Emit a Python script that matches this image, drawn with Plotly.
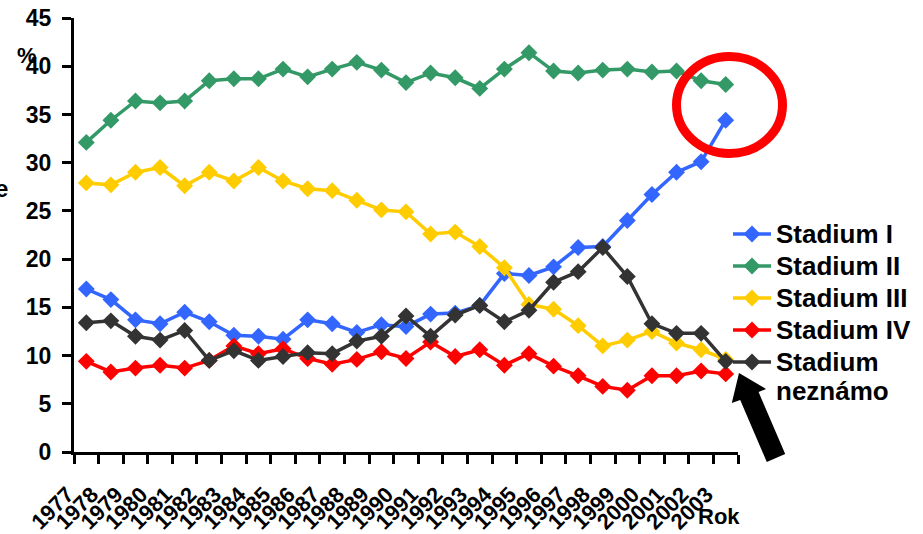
import plotly.graph_objects as go

# Survival-stage shares by year (percent)
years = ["1977", "1978", "1979", "1980", "1981", "1982", "1983", "1984", "1985",
         "1986", "1987", "1988", "1989", "1990", "1991", "1992", "1993", "1994",
         "1995", "1996", "1997", "1998", "1999", "2000", "2001", "2002", "2003"]

stadium_I = [16.9, 15.8, 13.7, 13.3, 14.5, 13.5, 12.1, 12.0, 11.7, 13.7, 13.3, 12.4, 13.2, 13.0,
             14.3, 14.4, 15.2, 18.5, 18.3, 19.2, 21.2, 21.3, 24.0, 26.7, 29.0, 30.1, 34.4]
stadium_II = [32.1, 34.4, 36.4, 36.2, 36.4, 38.5, 38.7, 38.7, 39.7, 38.9, 39.7, 40.4, 39.6, 38.3,
              39.3, 38.8, 37.7, 39.7, 41.4, 39.5, 39.3, 39.6, 39.7, 39.4, 39.5, 38.5, 38.1]
stadium_III = [27.9, 27.7, 29.0, 29.5, 27.6, 29.0, 28.1, 29.5, 28.1, 27.3, 27.1, 26.1, 25.1, 24.9,
               22.6, 22.8, 21.3, 19.1, 15.3, 14.8, 13.1, 11.0, 11.6, 12.5, 11.3, 10.6, 9.6]
stadium_IV = [9.4, 8.3, 8.7, 9.0, 8.7, 9.5, 11.0, 10.2, 10.7, 9.7, 9.1, 9.6, 10.4, 9.7,
              11.4, 9.9, 10.6, 9.0, 10.2, 8.9, 7.9, 6.8, 6.4, 7.9, 7.9, 8.4, 8.1]
stadium_unknown = [13.4, 13.6, 12.0, 11.6, 12.6, 9.5, 10.5, 9.5, 9.9, 10.3, 10.2, 11.5, 12.0, 14.1,
                   12.0, 14.2, 15.2, 13.5, 14.7, 17.6, 18.7, 21.2, 18.2, 13.3, 12.3, 12.3, 9.4]

series_names = ["Stadium I", "Stadium II", "Stadium III", "Stadium IV", "Stadium<br>neznámo"]
series_values = [stadium_I, stadium_II, stadium_III, stadium_IV, stadium_unknown]
series_colors = ["#3366FF", "#339966", "#FFCC00", "#FF0000", "#333333"]

y_ticks = [0, 5, 10, 15, 20, 25, 30, 35, 40, 45]

W, H = 923, 534
M_L, M_R, M_T, M_B = 74, 185, 18, 82
PW, PH = W - M_L - M_R, H - M_T - M_B


def px(x):
    return (x - M_L) / PW


def py(y):
    return (H - M_B - y) / PH


FONT = "Liberation Sans, Arial, sans-serif"
LEGEND_PX = 26


def legend_label(text):
    # larger glyphs inside a legend whose row pitch follows the base font size
    return "<br>".join(f"<span style='font-size:{LEGEND_PX}px'>{part}</span>"
                       for part in text.split("<br>"))


fig = go.Figure()
for name, vals, col in zip(series_names, series_values, series_colors):
    fig.add_trace(go.Scatter(
        x=years, y=vals, name=legend_label(name), mode="lines+markers",
        line=dict(color=col, width=3.5),
        marker=dict(symbol="diamond", size=13, color=col, line=dict(width=0)),
    ))

fig.update_layout(
    width=W, height=H,
    margin=dict(l=M_L, r=M_R, t=M_T, b=M_B, pad=0, autoexpand=False),
    paper_bgcolor="white", plot_bgcolor="white",
    font=dict(family=FONT, color="black"),
    showlegend=True,
    legend=dict(
        x=px(728), y=py(213), xanchor="left", yanchor="top",
        font=dict(size=22.3, family=FONT, weight="bold", color="black"),
        bgcolor="rgba(0,0,0,0)", borderwidth=0, tracegroupgap=0,
        itemwidth=38, valign="top",
    ),
)

fig.update_xaxes(
    type="category", range=[-0.5, len(years) - 0.5],
    tickmode="array", tickvals=years, ticktext=years,
    showline=True, linecolor="black", linewidth=3,
    ticks="outside", tickson="boundaries", ticklen=9, tickwidth=3, tickcolor="black",
    tickangle=-45, ticklabelstandoff=18, ticklabelshift=-19,
    tickfont=dict(size=22, family=FONT, weight="bold", color="black"),
    showgrid=False, zeroline=False, automargin=False,
)
fig.update_yaxes(
    range=[0, 45], tickvals=y_ticks,
    showline=True, linecolor="black", linewidth=3,
    ticks="outside", ticklen=9, tickwidth=3, tickcolor="black",
    ticklabelstandoff=6,
    tickfont=dict(size=23, family=FONT, weight="bold", color="black"),
    showgrid=False, zeroline=False, automargin=False,
)

# Axis captions
fig.add_annotation(text="%", x=px(27), y=py(55), xref="paper", yref="paper",
                   xanchor="center", yanchor="middle", showarrow=False,
                   font=dict(size=22, family=FONT, weight="bold"))
fig.add_annotation(text="e", x=px(10), y=py(188), xref="paper", yref="paper",
                   xanchor="right", yanchor="middle", showarrow=False,
                   font=dict(size=24, family=FONT, weight="bold"))
fig.add_annotation(text="Rok", x=px(719), y=py(516), xref="paper", yref="paper",
                   xanchor="center", yanchor="middle", showarrow=False,
                   font=dict(size=22, family=FONT, weight="bold"))

# Red ring around the 2003 values
fig.add_shape(type="circle", xref="paper", yref="paper",
              x0=px(676.5), x1=px(782.5), y0=py(153.5), y1=py(56.5),
              line=dict(color="#FF0000", width=9))

# Block arrow pointing at the legend entry for the unknown stage
arrow_pts = [(739, 373), (766, 388.9), (758.6, 392.1), (785.2, 454.1),
             (766.8, 461.9), (740.2, 399.9), (731.8, 403.1)]
path = "M " + " L ".join(f"{px(a):.5f},{py(b):.5f}" for a, b in arrow_pts) + " Z"
fig.add_shape(type="path", xref="paper", yref="paper", path=path,
              fillcolor="black", line=dict(color="black", width=0))

fig.write_html("out.html")
